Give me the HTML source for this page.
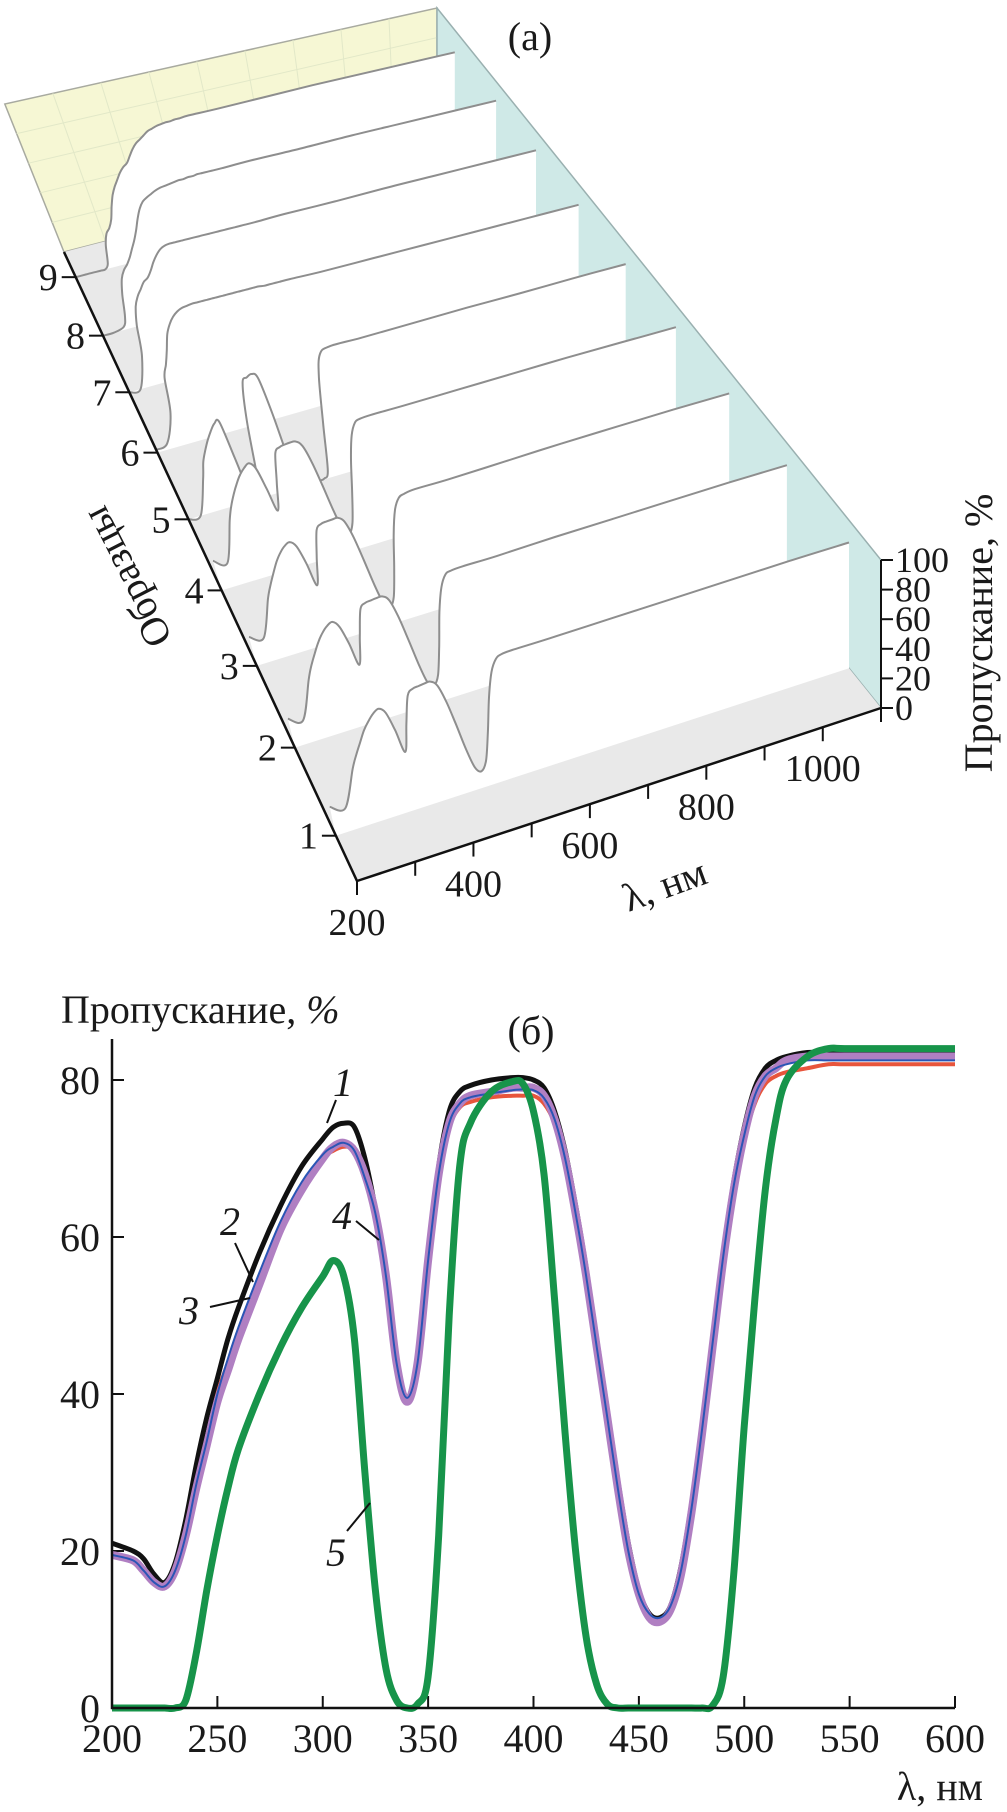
<!DOCTYPE html>
<html><head><meta charset="utf-8">
<style>
html,body{margin:0;padding:0;background:#fff;}
svg{display:block;font-family:"Liberation Serif","DejaVu Serif",serif;}
text{fill:#1a1a1a;}
</style></head>
<body>
<svg id="fig" width="1007" height="1812" viewBox="0 0 1007 1812" xmlns="http://www.w3.org/2000/svg">
  <g id="topChart"></g>
  <g id="bottom"></g>
</svg>
<script>
// ---------- 3D chart data ----------
const lam3 = [200,225,250,260,270,280,290,300,310,320,330,340,350,360,370,380,390,400,410,420,430,440,450,460,470,480,490,500,510,520,540,600,700,800,900,1000,1100];
const sampleLabels = ["1","2","3","4","5","6","7","8","9"];
const s9 = [0,0,0,0,0,3,15,22,25,30,38,45,50,54,58,61,63,67,71,74,76,78,80,81,82,82.5,83,83,83.5,83.5,84,84,84.5,85,85,85,85];
const s8 = [0,0,2,8,22,32,37,40,44,49,54,60,67,73,77,79,80.5,82,83,83.5,84,84.5,85,85,85.5,85.5,86,86,86,86,86,86.5,86.5,87,87,87,87];
const s7 = [0,0,20,40,52,58,62,66,68,72,77,81,84,85.5,86,86,86,86,86,86,86,86,86,86,86,86,86,86,86,86,86,86.5,86.5,87,87,87,87];
const s6 = [2,4,22,45,53,62,72,78,82,84.5,86,86.5,87,87,87,87,87,87,87,87,87,87,87,87,87,87,86.5,86.5,86.5,86.5,86.5,86,86,86,86,86,86];
const s5 = [0,0,22,33,40,46,51,55,55,30,5,0,4,50,75.5,78.5,79.8,76,52,20,3,0,0,0,0,0.5,5,36,66,80.5,84,84,84.5,85,85,85.5,85.5];
const s4 = [20,16,42,51,58,64,69,72.5,74.5,70,55,39.5,57,76,79.3,80,80.3,80,76,64,47,29,15,11.5,18,36,58,74,81.5,83,83.5,83.5,84,84.5,85,85,85];
const s3 = [19.5,16,40,48,55,61.5,66.5,70,71.5,67.5,55,39,57,74,77.2,77.8,78,78,74.5,63,46,28,14.5,11,17,35,57,72.5,79.5,81,82,82,83,84,84.5,85,85];
const s2 = [19.5,15.5,40,48.5,55.5,62,67,70.5,72,67.5,55,39.5,57,74.5,77.8,78.3,78.7,78.7,75,63,46,28,14.5,11.5,17.5,35.5,57.5,73,80.5,82,82.5,82.5,83.5,84,84.5,85,85];
const s1 = [19.5,15.5,39,47,54,61,66,70,72,68,55,39,57,74.5,78,78.5,79,79,75,63,46,28,14.5,11,17,35,57,73,80.5,82.5,83,83,83.5,84,84.5,85,85];
const lamTicks3 = [200,300,400,500,600,700,800,900,1000,1100];
const lamLabels3 = [200,400,600,800,1000];
const zTicks = [0,20,40,60,80,100];

// ---------- 2D chart data ----------
const lamB = [200,210,215,220,225,230,235,240,245,250,255,260,270,280,290,300,305,310,315,320,325,330,335,340,345,350,355,360,365,370,380,390,395,400,405,410,415,420,425,430,435,440,445,450,455,460,465,470,475,480,485,490,495,500,505,510,515,520,530,540,550,600];
const curve1 = [21,20,19,17,16,18.5,24,31,37,42,47,51,58,64,69,72.5,74,74.5,74,70,63.5,55,44.5,39.5,44.5,57,69,76,78.5,79.3,80,80.3,80.3,80,79,76,71,64,56,47,38,29,21,15,12,11.5,13,18,26,36,47,58,67,74,79,81.5,82.5,83,83.5,83.5,83.5,83.5];
const curve2 = [19.5,18.8,17.5,16,15.5,17.5,22,28.5,34,40,44,48,55,61.5,66.5,70,71,71.5,71,67.5,63,55,44,39,44,57,68,74,76.5,77.2,77.8,78,78,78,77,74.5,70,63,55,46,37,28,20,14.5,11.5,11,12.5,17,25,35,46,57,66,72.5,77,79.5,80.5,81,81.5,82,82,82];
const curve3 = [19.5,18.8,17.5,16,15.5,17.5,22,28.5,34,40,44.5,48.5,55.5,62,67,70.5,71.5,72,71,67.5,63,55,44,39.5,44,57,68,74.5,77,77.8,78.3,78.7,78.8,78.7,77.7,75,70,63,55,46,37,28,20,14.5,12,11.5,13,17.5,25.5,35.5,46.5,57.5,66.5,73,78,80.5,81.5,82,82.5,82.5,82.5,82.5];
const curve4 = [19.5,18.8,17.5,16,15.5,17.5,22,28,33.5,39,43,47,54,61,66,70,71.5,72,71,68,63,55,44,39,44,57,68,74.5,77,78,78.5,79,79,79,78,75,70,63,55,46,37,28,20,14.5,11.5,11,12.5,17,25,35,46,57,66,73,78,80.5,81.5,82.5,83,83,83,83];
const curve5 = [0,0,0,0,0,0,1,7,15,22,28,33,40,46,51,55,57,55,47,30,15,5,1,0,0.5,4,22,50,69,74.5,78.5,79.8,79.5,76,68,52,35,20,9,3,0.5,0,0,0,0,0,0,0,0,0,0.3,4,17,36,52,66,75,80,83,84,84,84];
const xTicksB = [200,250,300,350,400,450,500,550,600];
const yTicksB = [0,20,40,60,80];

const NS = "http://www.w3.org/2000/svg";
function mk(tag, attrs, parent){ const e=document.createElementNS(NS,tag); for(const k in attrs) e.setAttribute(k,attrs[k]); parent.appendChild(e); return e; }
function crPath(pts){
  let d = "M"+pts[0][0].toFixed(1)+","+pts[0][1].toFixed(1);
  for(let i=0;i<pts.length-1;i++){
    const p0=pts[Math.max(0,i-1)], p1=pts[i], p2=pts[i+1], p3=pts[Math.min(pts.length-1,i+2)];
    const c1=[p1[0]+(p2[0]-p0[0])/6, p1[1]+(p2[1]-p0[1])/6];
    const c2=[p2[0]-(p3[0]-p1[0])/6, p2[1]-(p3[1]-p1[1])/6];
    d+=" C"+c1[0].toFixed(1)+","+c1[1].toFixed(1)+" "+c2[0].toFixed(1)+","+c2[1].toFixed(1)+" "+p2[0].toFixed(1)+","+p2[1].toFixed(1);
  }
  return d;
}

// ---------- 3D projection ----------
const BL=[64,252], FL=[357,881], BR=[437,156], FR=[881,708], HZ=1.48;
const rowT=[0.928,0.788,0.658,0.538,0.425,0.319,0.223,0.133,0.04];
function P(lam,t,T){
  const u=(lam-200)/900;
  const lx=BL[0]+(FL[0]-BL[0])*t, ly=BL[1]+(FL[1]-BL[1])*t;
  const rx=BR[0]+(FR[0]-BR[0])*t, ry=BR[1]+(FR[1]-BR[1])*t;
  const x=lx+(rx-lx)*u, y=ly+(ry-ly)*u;
  const tilt=0.4*(1100-lam)/900*(1-0.5*t);
  const h=T*HZ;
  return [x-tilt*h, y-h];
}
const topG=document.getElementById('topChart');
let w=mk('polygon',{points:[P(200,0,0),P(1100,0,0),P(1100,0,100),P(200,0,100)].map(p=>p.join(',')).join(' '),fill:'#f6f7d4',stroke:'#a8aaa0','stroke-width':1.5},topG);


for(let l=300;l<1100;l+=100){
  const a=P(l,0,0), b=P(l,0,100);
  const g=mk('line',{x1:a[0],y1:a[1],x2:b[0],y2:b[1],stroke:'#e2e8c8','stroke-width':1},topG);
  
  
}
for(let z=20;z<100;z+=20){
  const a=P(200,0,z), b=P(1100,0,z);
  const g=mk('line',{x1:a[0],y1:a[1],x2:b[0],y2:b[1],stroke:'#e2e8c8','stroke-width':1},topG);
  
  
}
w=mk('polygon',{points:[P(1100,0,0),P(1100,1,0),P(1100,1,100),P(1100,0,100)].map(p=>p.join(',')).join(' '),fill:'#cfe9e7',stroke:'#9ab0b0','stroke-width':1.5},topG);


w=mk('polygon',{points:[BL,BR,FR,FL].map(p=>p.join(',')).join(' '),fill:'#e9e9e9',stroke:'none'},topG);


const sheets=[s1,s2,s3,s4,s5,s6,s7,s8,s9];
for(let k=8;k>=0;k--){
  const t=rowT[k], vals=sheets[k];
  const pts=lam3.map((l,i)=>P(l,t,vals[i]));
  const curve=crPath(pts);
  const b1=P(1100,t,0), b0=P(200,t,0);
  const f=mk('path',{d:curve+" L"+b1[0]+","+b1[1]+" L"+b0[0]+","+b0[1]+" Z",fill:'#fff',stroke:'none'},topG);
  
  
  const c=mk('path',{d:curve,fill:'none',stroke:'#8e8e8e','stroke-width':2},topG);
  
  
}
let ax=mk('line',{x1:BL[0],y1:BL[1],x2:FL[0],y2:FL[1],stroke:'#111','stroke-width':2.5},topG);


ax=mk('line',{x1:FL[0],y1:FL[1],x2:FR[0],y2:FR[1],stroke:'#111','stroke-width':2.5},topG);


const zb=P(1100,1,0), zt=P(1100,1,100);
ax=mk('line',{x1:zb[0],y1:zb[1],x2:zt[0],y2:zt[1],stroke:'#111','stroke-width':2},topG);


sampleLabels.forEach((lab,k)=>{
  const t=rowT[k];
  const a=[BL[0]+(FL[0]-BL[0])*t, BL[1]+(FL[1]-BL[1])*t];
  const tk=mk('line',{x1:a[0]-14,y1:a[1],x2:a[0],y2:a[1],stroke:'#111','stroke-width':2},topG);
  
  
  const tx=mk('text',{x:a[0]-18,y:a[1]+13,'font-size':38,'text-anchor':'end'},topG);
  tx.textContent=lab;
  
  
});
lamTicks3.forEach(l=>{
  const a=P(l,1,0);
  const tk=mk('line',{x1:a[0],y1:a[1],x2:a[0],y2:a[1]+14,stroke:'#111','stroke-width':2},topG);
  
  
});
lamLabels3.forEach(l=>{
  const a=P(l,1,0);
  const tx=mk('text',{x:a[0],y:a[1]+54,'font-size':38,'text-anchor':'middle'},topG);
  tx.textContent=String(l);
  
  
});
zTicks.forEach(z=>{
  const a=P(1100,1,z);
  const tk=mk('line',{x1:a[0],y1:a[1],x2:a[0]+12,y2:a[1],stroke:'#111','stroke-width':2},topG);
  
  
  const tx=mk('text',{x:a[0]+14,y:a[1]+12,'font-size':36},topG);
  tx.textContent=String(z);
  
  
});

// ---------- 2D chart ----------
const bot=document.getElementById('bottom');
const X0=112, X1=955, Y0=1708, YPER=7.85;
const sx=l=>X0+(l-200)*(X1-X0)/400;
const sy=v=>Y0-v*YPER;
yTicksB.forEach(v=>{
  const tk=mk('line',{x1:X0,y1:sy(v),x2:X0+12,y2:sy(v),stroke:'#111','stroke-width':2},bot);
  
  
  const tx=mk('text',{x:X0-12,y:sy(v)+14,'font-size':40,'text-anchor':'end'},bot);
  tx.textContent=String(v);
  
  
});
xTicksB.forEach(l=>{
  const tk=mk('line',{x1:sx(l),y1:Y0,x2:sx(l),y2:Y0-12,stroke:'#111','stroke-width':2},bot);
  
  
  const tx=mk('text',{x:sx(l),y:Y0+44,'font-size':40,'text-anchor':'middle'},bot);
  tx.textContent=String(l);
  
  
});
const series=[[curve1,'#111',5,'curve-1'],[curve2,'#e8553c',4,'curve-2'],[curve4,'#b07fc2',8,'curve-4'],[curve3,'#2a55b5',2,'curve-3'],[curve5,'#17944a',7,'curve-5']];
series.forEach(s=>{
  const pts=lamB.map((l,i)=>[sx(l),sy(s[0][i])]);
  const p=mk('path',{d:crPath(pts),fill:'none',stroke:s[1],'stroke-width':s[2],'stroke-linejoin':'round'},bot);
  
  
});
ax=mk('polyline',{points:X0+",1039 "+X0+","+Y0+" "+X1+","+Y0,fill:'none',stroke:'#111','stroke-width':2.5},bot);


</script>
<svg style="position:absolute;left:0;top:0" width="1007" height="1812">
  <g font-family="Liberation Serif, DejaVu Serif, serif" fill="#1a1a1a">
    <text x="530" y="50" font-size="40" text-anchor="middle">(a)</text>
    <text transform="translate(127,577) rotate(-117)" font-size="40" text-anchor="middle" dy="13">Образцы</text>
    <text transform="translate(979,633) rotate(-90)" font-size="40" text-anchor="middle" dy="13">Пропускание, %</text>
    <text transform="translate(665,886) rotate(-20)" font-size="40" text-anchor="middle" dy="12">λ, нм</text>
    <text x="61" y="1023" font-size="40">Пропускание, <tspan font-style="italic">%</tspan></text>
    <text x="531" y="1044" font-size="40" text-anchor="middle">(б)</text>
    <text x="983" y="1800" font-size="40" text-anchor="end">λ, нм</text>
    <g font-style="italic" font-size="40">
      <text x="343" y="1096" text-anchor="middle">1</text>
      <text x="230" y="1235" text-anchor="middle">2</text>
      <text x="189" y="1324" text-anchor="middle">3</text>
      <text x="342" y="1229" text-anchor="middle">4</text>
      <text x="336" y="1566" text-anchor="middle">5</text>
    </g>
    <g stroke="#111" stroke-width="2">
      <line x1="336" y1="1100" x2="327" y2="1123"/>
      <line x1="235" y1="1243" x2="253" y2="1282"/>
      <line x1="210" y1="1307" x2="250" y2="1298"/>
      <line x1="356" y1="1221" x2="379" y2="1240"/>
      <line x1="347" y1="1531" x2="370" y2="1503"/>
    </g>
  </g>
</svg>
</body></html>
